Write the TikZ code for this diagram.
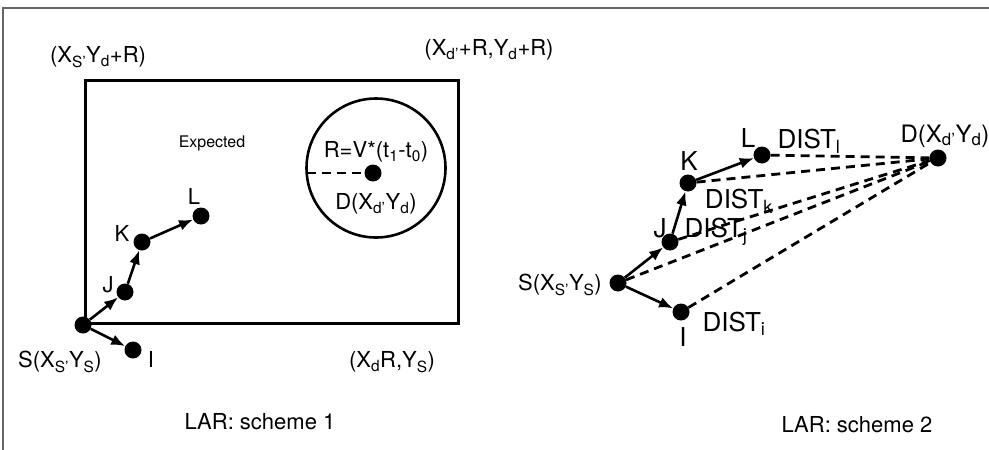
\documentclass[tikz,border=0pt]{standalone}
\usepackage{fontspec}
\setmainfont{TeX Gyre Heros}
\usetikzlibrary{arrows.meta}
\begin{document}
\begin{tikzpicture}[x=1pt,y=-1pt,
  dot/.style={circle,fill=black,inner sep=0pt,minimum size=17pt},
  lbl/.style={font=\fontsize{22}{26}\selectfont,inner sep=0pt},
  big/.style={font=\fontsize{26}{30}\selectfont,inner sep=0pt},
  small/.style={font=\fontsize{16}{19}\selectfont,inner sep=0pt},
  arr/.style={line width=2.6pt,-{Latex[length=14pt,width=11pt]}},
  dsh/.style={line width=2.8pt,dash pattern=on 9pt off 6pt},
  frame/.style={draw=black!60,line width=1.8pt}]
\useasboundingbox (0,0) rectangle (989,450);
% frame
\draw[frame] (3,450) -- (3,8) -- (989,8);
% ---------- scheme 1 ----------
\draw[line width=3pt] (85,80) rectangle (458,323);
\node[draw,circle,line width=2.6pt,minimum size=139pt,inner sep=0pt] (circ) at (376,168) {};
\node[dot] (D1) at (373,173) {};
\coordinate (cw) at (306.5,173);
\draw[dsh] (cw) -- (D1);
\node[lbl] at (376,152) {R=V*(t\textsubscript{1}-t\textsubscript{0})};
\node[lbl] at (376,204) {D(X\textsubscript{d'}Y\textsubscript{d})};
\node[small] at (212,143) {Expected};
\node[dot] (S1) at (83,325) {};
\node[dot] (J1) at (125,292) {};
\node[dot] (K1) at (142,242) {};
\node[dot] (L1) at (201,216) {};
\node[dot] (I1) at (133,350) {};
\draw[arr] (S1) -- (J1);
\draw[arr] (J1) -- (K1);
\draw[arr] (K1) -- (L1);
\draw[arr] (S1) -- (I1);
\node[lbl] at (108,285) {J};
\node[lbl] at (122,233) {K};
\node[lbl] at (194,196) {L};
\node[lbl] at (151,359) {I};
\node[lbl] at (60,362) {S(X\textsubscript{S'}Y\textsubscript{S})};
\node[lbl] at (98,57) {(X\textsubscript{S'}Y\textsubscript{d}+R)};
\node[lbl] at (489,50) {(X\textsubscript{d'}+R,Y\textsubscript{d}+R)};
\node[lbl] at (392,362) {(X\textsubscript{d}R,Y\textsubscript{S})};
\node[lbl] at (260,422) {LAR: scheme 1};
% ---------- scheme 2 ----------
\node[dot] (S2) at (618,283) {};
\node[dot] (J2) at (670,242) {};
\node[dot] (K2) at (688,183) {};
\node[dot] (L2) at (762,155) {};
\node[dot] (I2) at (681,312) {};
\node[dot] (D2) at (938,158) {};
\draw[dsh] (L2) -- (D2);
\draw[dsh] (K2) -- (D2);
\draw[dsh] (J2) -- (D2);
\draw[dsh] (S2) -- (D2);
\draw[dsh] (I2) -- (D2);
\draw[arr] (S2) -- (J2);
\draw[arr] (J2) -- (K2);
\draw[arr] (K2) -- (L2);
\draw[arr] (S2) -- (I2);
\node[lbl] at (560,285) {S(X\textsubscript{S'}Y\textsubscript{S})};
\node[big] at (683,337) {I};
\node[big] at (734,324) {DIST\textsubscript{i}};
\node[big] at (660,228) {J};
\node[big] at (716,232) {DIST\textsubscript{j}};
\node[big] at (689,161) {K};
\node[big] at (739,201) {DIST\textsubscript{k}};
\node[big] at (748,138) {L};
\node[big] at (809,141) {DIST\textsubscript{l}};
\node[font=\fontsize{24}{28}\selectfont,inner sep=0pt] at (945,136) {D(X\textsubscript{d'}Y\textsubscript{d})};
\node[lbl] at (857,425) {LAR: scheme 2};
\end{tikzpicture}
\end{document}
